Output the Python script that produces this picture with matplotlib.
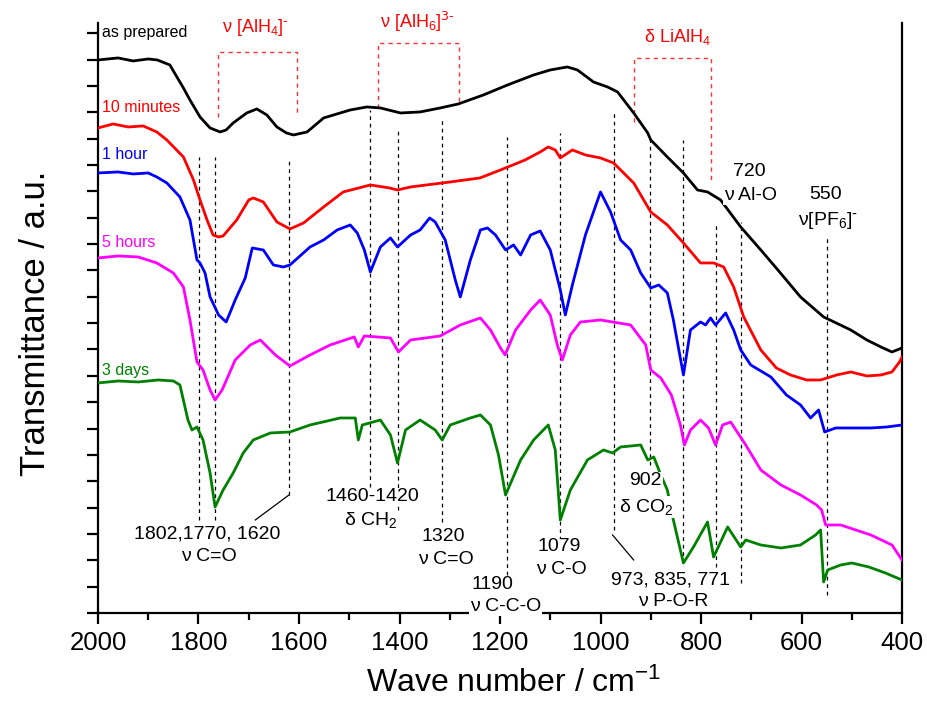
import numpy as np
import matplotlib
matplotlib.use("Agg")
import matplotlib.pyplot as plt

plt.rcParams['font.family'] = ['Liberation Sans', 'DejaVu Sans']
plt.rcParams['mathtext.default'] = 'regular'

# ---- spectra (wave number / cm-1, transmittance a.u., offset stack) ----
wn_black = [2000, 1960, 1930, 1900, 1882, 1857, 1843, 1830, 1817, 1797, 1777, 1757, 1745, 1731,
            1704, 1684, 1664, 1644, 1625, 1611, 1584, 1551, 1498, 1465, 1438, 1398, 1359, 1319,
            1283, 1233, 1185, 1133, 1100, 1066, 1046, 1014, 986, 966, 934, 906, 900, 867, 835,
            807, 787, 761, 721, 681, 647, 602, 556, 502, 470, 442, 420, 400]
t_black = [553, 555, 552, 554, 553, 548, 536, 525, 513, 496, 485, 481, 483, 490,
           500, 504, 498, 486, 480, 478, 481, 495, 503, 506, 505, 500, 501, 505,
           509, 518, 528, 538, 543, 546, 543, 531, 526, 521, 500, 480, 473, 456, 440,
           423, 421, 413, 386, 363, 343, 316, 296, 283, 273, 266, 261, 265]

wn_red = [2000, 1970, 1940, 1910, 1883, 1863, 1830, 1810, 1797, 1783, 1771, 1760, 1751, 1724,
          1700, 1691, 1671, 1644, 1618, 1591, 1551, 1512, 1458, 1420, 1404, 1378, 1299, 1240,
          1199, 1150, 1120, 1104, 1090, 1080, 1056, 1030, 1000, 974, 934, 900, 867, 835, 801,
          775, 755, 735, 715, 681, 650, 622, 590, 562, 530, 502, 470, 442, 420, 405, 400]
t_red = [485, 489, 486, 487, 481, 473, 456, 433, 413, 393, 378, 376, 377, 393,
         413, 415, 411, 391, 384, 390, 406, 421, 428, 425, 423, 426, 431, 435,
         443, 453, 461, 466, 463, 455, 463, 458, 455, 450, 430, 401, 388, 370, 350,
         350, 346, 326, 296, 263, 245, 238, 233, 233, 238, 241, 237, 238, 241, 251, 256]

wn_blue = [2000, 1960, 1930, 1900, 1883, 1863, 1837, 1817, 1803, 1797, 1787, 1777, 1760, 1745,
           1735, 1727, 1707, 1693, 1671, 1651, 1631, 1618, 1578, 1551, 1524, 1498, 1484, 1470,
           1458, 1438, 1418, 1404, 1378, 1359, 1340, 1329, 1309, 1289, 1279, 1259, 1239, 1225,
           1209, 1189, 1173, 1159, 1139, 1120, 1100, 1080, 1070, 1056, 1030, 1000, 980, 960,
           940, 920, 900, 884, 867, 855, 835, 821, 801, 791, 781, 771, 751, 735, 721, 701,
           661, 630, 602, 582, 566, 554, 532, 500, 462, 430, 400]
t_blue = [440, 441, 439, 440, 436, 430, 416, 393, 353, 350, 340, 316, 298, 291,
          303, 313, 335, 365, 363, 348, 346, 348, 366, 373, 383, 388, 380, 363,
          341, 366, 375, 366, 378, 383, 395, 391, 373, 333, 316, 353, 383, 385,
          378, 363, 368, 358, 378, 382, 363, 323, 298, 328, 378, 421, 401, 373,
          363, 340, 325, 328, 320, 293, 238, 283, 291, 288, 295, 288, 300, 283, 263, 248,
          236, 218, 208, 195, 203, 181, 185, 185, 185, 186, 188]

wn_mag = [2000, 1960, 1920, 1883, 1850, 1830, 1817, 1803, 1791, 1777, 1767, 1753, 1727, 1697,
          1677, 1647, 1618, 1578, 1538, 1490, 1482, 1470, 1418, 1402, 1378, 1319, 1279, 1239,
          1219, 1199, 1190, 1169, 1139, 1120, 1100, 1086, 1076, 1060, 1040, 1000, 940, 910,
          900, 880, 859, 841, 833, 821, 801, 785, 771, 757, 741, 711, 681, 641, 602, 570,
          560, 552, 522, 462, 420, 400]
t_mag = [355, 357, 356, 350, 340, 326, 293, 251, 243, 223, 213, 223, 253, 268,
         273, 258, 247, 258, 268, 276, 266, 277, 275, 261, 273, 277, 288, 295,
         283, 265, 258, 283, 303, 313, 298, 268, 253, 278, 291, 293, 288, 268,
         243, 235, 218, 188, 168, 183, 193, 185, 168, 188, 191, 168, 143, 128, 118, 108,
         103, 88, 88, 78, 68, 53]

wn_green = [2000, 1960, 1920, 1880, 1850, 1837, 1821, 1813, 1803, 1791, 1777, 1767, 1751, 1731,
            1711, 1691, 1657, 1618, 1578, 1518, 1488, 1482, 1474, 1438, 1418, 1404, 1388, 1359,
            1329, 1315, 1299, 1259, 1239, 1219, 1203, 1189, 1159, 1133, 1104, 1090, 1080, 1060,
            1026, 994, 976, 960, 920, 906, 894, 880, 867, 855, 835, 815, 787, 775, 747, 721,
            711, 681, 641, 602, 572, 562, 556, 548, 522, 500, 466, 433, 400]
t_green = [230, 232, 231, 233, 232, 228, 193, 183, 186, 173, 140, 106, 123, 140,
           160, 173, 180, 181, 188, 195, 195, 173, 188, 193, 178, 150, 183, 193,
           183, 173, 188, 195, 198, 188, 158, 118, 153, 173, 188, 163, 93, 123,
           153, 163, 160, 166, 168, 153, 156, 138, 123, 93, 50, 66, 91, 56, 86, 66,
           73, 68, 65, 68, 78, 83, 31, 43, 48, 50, 46, 40, 33]

series = [
    (wn_black, t_black, 'black', 'as prepared', 580),
    (wn_red, t_red, '#ff0000', '10 minutes', 505),
    (wn_blue, t_blue, '#0000ff', '1 hour', 458),
    (wn_mag, t_mag, '#ff00ff', '5 hours', 370),
    (wn_green, t_green, '#008000', '3 days', 242),
]

# band markers: wave number, top, bottom
band_lines = [(1799, 456, 93), (1767, 456, 93), (1620, 453, 118), (1458, 503, 126),
              (1402, 483, 103), (1316, 493, 91), (1187, 476, 38), (1080, 480, 73),
              (974, 500, 83), (902, 473, 148), (835, 473, 50), (771, 391, 46),
              (720, 391, 30), (550, 378, 18)]

# red brackets: left wn, right wn, left foot, right foot, top
brackets = [(1761, 1604, 496, 500, 561, r'ν [AlH$_4$]$^{\text{-}}$', 1687, 585),
            (1442, 1281, 505, 509, 570, r'ν [AlH$_6$]$^{\text{3-}}$', 1365, 591),
            (934, 781, 491, 430, 555, r'δ LiAlH$_4$', 847, 576)]

annotations = [
    ('1802,1770, 1620', 1783, 79), ('ν C=O', 1779, 56),
    ('1460-1420', 1454, 116), (r'δ CH$_2$', 1458, 93),
    ('1320', 1313, 76), ('ν C=O', 1307, 53),
    ('1190', 1215, 28), ('ν C-C-O', 1189, 6),
    ('1079', 1082, 66), ('ν C-O', 1078, 43),
    ('902', 910, 132), (r'δ CO$_2$', 908, 106),
    ('973, 835, 771', 861, 33), ('ν P-O-R', 855, 11),
    ('720', 703, 441), ('ν Al-O', 701, 417),
    ('550', 552, 418), (r'ν[PF$_6$]$^{\text{-}}$', 548, 392),
]

leaders = [((1620, 118), (1687, 93)), ((976, 78), (934, 53))]

fig = plt.figure(figsize=(9.28, 7.02), dpi=100)
ax = fig.add_axes([0.1056, 0.1268, 0.8664, 0.8405])

for wn, t, col, lab, ly in series:
    ax.plot(wn, t, color=col, lw=2.0, zorder=3)
    ax.text(1992, ly, lab, color=col, fontsize=11.5, ha='left', va='center')

for wn, top, bot in band_lines:
    ax.plot([wn, wn], [bot, top], color='black', lw=0.9, ls=(0, (3, 3)), zorder=2)

for (x0, y0), (x1, y1) in leaders:
    ax.plot([x0, x1], [y0, y1], color='black', lw=0.9, zorder=2)

for xl, xr, fl, fr, top, lab, tx, ty in brackets:
    ax.plot([xl, xl, xr, xr], [fl, top, top, fr], color='#ff3030', lw=1.0,
            ls=(0, (3, 3)), zorder=2)
    ax.text(tx, ty, lab, color='#ff0000', fontsize=13, ha='center', va='center')

for lab, x, y in annotations:
    ax.text(x, y, lab, fontsize=14, ha='center', va='center', zorder=5, clip_on=False,
            bbox=dict(facecolor='white', edgecolor='none', pad=0.5))

ax.set_xlim(2000, 400)
ax.set_ylim(0, 590)
ax.set_xticks(np.arange(2000, 399, -200))
ax.set_xticks(np.arange(1900, 400, -200), minor=True)
ax.set_yticks(np.arange(0, 590, 26.35))
ax.set_yticklabels([])
ax.spines['top'].set_visible(False)
for s in ['left', 'right', 'bottom']:
    ax.spines[s].set_linewidth(1.6)
ax.tick_params(axis='both', which='major', direction='out', length=8, width=1.6,
               labelsize=18.5, pad=5)
ax.tick_params(axis='x', which='minor', direction='out', length=5, width=1.6)

ax.set_xlabel('Wave number / cm$^{-1}$', fontsize=23, labelpad=9)
ax.xaxis.label.set_x(0.517)
ax.set_ylabel('Transmittance / a.u.', fontsize=25, labelpad=20)
ax.yaxis.label.set_y(0.49)

fig.savefig('out.png', dpi=100)
